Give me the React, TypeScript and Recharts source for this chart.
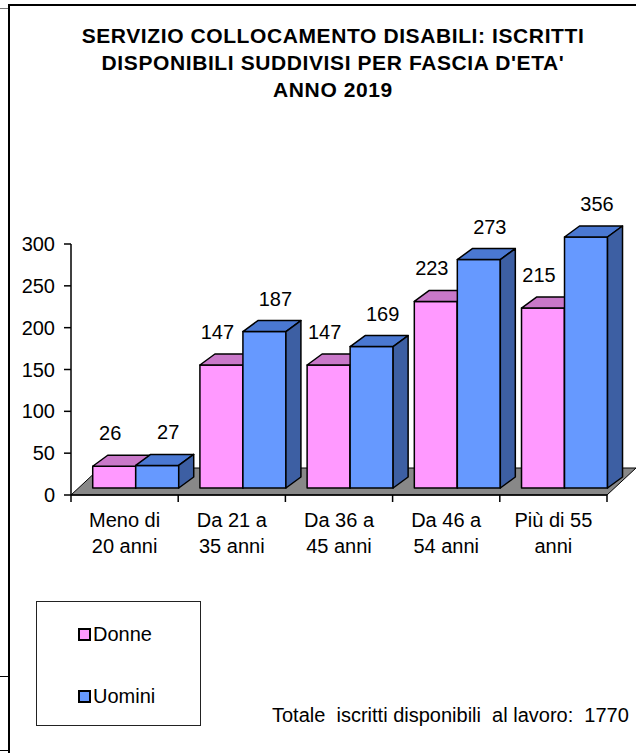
import React from 'react';
import { BarChart, Bar, XAxis, YAxis, LabelList } from 'recharts';

const TITLE_LINES = [
  'SERVIZIO COLLOCAMENTO DISABILI: ISCRITTI',
  "DISPONIBILI SUDDIVISI PER FASCIA D'ETA'",
  'ANNO 2019',
];
const CATEGORIES = [
  ['Meno di', '20 anni'],
  ['Da 21 a', '35 anni'],
  ['Da 36 a', '45 anni'],
  ['Da 46 a', '54 anni'],
  ['Più di 55', 'anni'],
];
const DONNE = [26, 147, 147, 223, 215];
const UOMINI = [27, 187, 169, 273, 356];
const Y_TICKS = [0, 50, 100, 150, 200, 250, 300];
const Y_MAX = 300;
const FOOTER_LABEL = 'Totale  iscritti disponibili  al lavoro:  ';

const SERIES = [
  { key: 'donne', name: 'Donne', front: '#ff99ff', top: '#c978c9', side: '#a050a0', labelDx: -4 },
  { key: 'uomini', name: 'Uomini', front: '#6699ff', top: '#4a78d2', side: '#3d5fa3', labelDx: 11 },
];

const W = 636;
const H = 753;
const PLOT_LEFT = 71;
const PLOT_RIGHT = 607;
const PLOT_TOP = 244;
const PLOT_BOTTOM = 495;

// 3D look: bar front sits a bit behind the axis plane, with depth going up-right
const OX = 11;
const OY = -7;
const DX = 15;
const DY = -11;
const FLOOR_DX = 29;
const FLOOR_DY = -27;

const FONT = '"Liberation Sans", Arial, sans-serif';

const data = CATEGORIES.map((c, i) => ({
  cat: c.join('\n'),
  donne: DONNE[i],
  uomini: UOMINI[i],
}));

const total = [...DONNE, ...UOMINI].reduce((a, b) => a + b, 0);

const Bar3D = (props: any) => {
  const { x, y, width, height, front, top, side } = props;
  if (width == null || height == null) return null;
  const x0 = x + OX;
  const y0 = y + OY;
  const x1 = x0 + width;
  const y1 = y0 + height;
  return (
    <g stroke="#000" strokeWidth={1.5} strokeLinejoin="round">
      <rect x={x0} y={y0} width={width} height={height} fill={front} />
      <polygon points={`${x0},${y0} ${x0 + DX},${y0 + DY} ${x1 + DX},${y0 + DY} ${x1},${y0}`} fill={top} />
      <polygon points={`${x1},${y0} ${x1 + DX},${y0 + DY} ${x1 + DX},${y1 + DY} ${x1},${y1}`} fill={side} />
    </g>
  );
};

const makeLabel = (labelDx: number) => (props: any) => {
  const { x, y, width, value } = props;
  return (
    <text x={x + width / 2 + OX + labelDx} y={y + OY - 26} textAnchor="middle" fontSize={20} fill="#000" fontFamily={FONT}>
      {value}
    </text>
  );
};

const CategoryTick = (props: any) => {
  const { x, payload, index } = props;
  const band = (PLOT_RIGHT - PLOT_LEFT) / CATEGORIES.length;
  const lines = String(payload.value).split('\n');
  return (
    <g>
      <line x1={x - band / 2} x2={x - band / 2} y1={PLOT_BOTTOM} y2={PLOT_BOTTOM + 7} stroke="#000" strokeWidth={1.5} />
      {index === CATEGORIES.length - 1 && (
        <line x1={x + band / 2} x2={x + band / 2} y1={PLOT_BOTTOM} y2={PLOT_BOTTOM + 7} stroke="#000" strokeWidth={1.5} />
      )}
      {lines.map((l, i) => (
        <text key={i} x={x} y={PLOT_BOTTOM + 32 + i * 26} textAnchor="middle" fontSize={20} fill="#000" fontFamily={FONT}>
          {l}
        </text>
      ))}
    </g>
  );
};

export default function App() {
  return (
    <div style={{ position: 'absolute', left: 0, top: 0, width: W, height: H, background: '#fff', fontFamily: FONT, overflow: 'hidden' }}>
      {/* frame */}
      <div style={{ position: 'absolute', left: 8, top: 4, width: W, height: H, borderLeft: '2px solid #000', borderTop: '2px solid #000' }} />
      <div style={{ position: 'absolute', left: 0, top: 8, width: 8, height: 0, borderTop: '1px solid #777' }} />
      <div style={{ position: 'absolute', left: 0, top: 676, width: 8, height: 73, borderTop: '1px solid #000', borderBottom: '1px solid #000' }} />

      {/* floor */}
      <svg width={W} height={H} style={{ position: 'absolute', left: 0, top: 0 }}>
        <polygon
          points={`${PLOT_LEFT},${PLOT_BOTTOM} ${PLOT_RIGHT},${PLOT_BOTTOM} ${PLOT_RIGHT + FLOOR_DX},${PLOT_BOTTOM + FLOOR_DY} ${PLOT_LEFT + FLOOR_DX},${PLOT_BOTTOM + FLOOR_DY}`}
          fill="#888"
          stroke="#000"
          strokeWidth={1}
        />
      </svg>

      <div style={{ position: 'absolute', left: 0, top: 0 }}>
        <BarChart
          width={W}
          height={H}
          data={data}
          margin={{ top: PLOT_TOP, right: W - PLOT_RIGHT, bottom: 0, left: 0 }}
          barCategoryGap="10%"
          barGap={0}
        >
          <XAxis
            dataKey="cat"
            height={H - PLOT_BOTTOM}
            interval={0}
            axisLine={{ stroke: '#000', strokeWidth: 1.5 }}
            tickLine={false}
            tick={<CategoryTick />}
          />
          <YAxis
            width={PLOT_LEFT}
            domain={[0, Y_MAX]}
            ticks={Y_TICKS}
            interval={0}
            tickSize={7}
            tickMargin={9}
            axisLine={{ stroke: '#000', strokeWidth: 1.5 }}
            tickLine={{ stroke: '#000', strokeWidth: 1.5 }}
            tick={{ fontSize: 20, fill: '#000', fontFamily: FONT }}
          />
          {SERIES.map((s) => (
            <Bar
              key={s.key}
              name={s.name}
              dataKey={(d: any) => Math.min(d[s.key], Y_MAX)}
              isAnimationActive={false}
              shape={<Bar3D front={s.front} top={s.top} side={s.side} />}
            >
              <LabelList dataKey={s.key} content={makeLabel(s.labelDx)} />
            </Bar>
          ))}
        </BarChart>
      </div>

      {/* title */}
      <div style={{ position: 'absolute', left: 0, top: 22, width: 666, textAlign: 'center', fontWeight: 'bold', fontSize: 21, lineHeight: '27px', letterSpacing: 0.6, color: '#000' }}>
        {TITLE_LINES.map((t) => (
          <div key={t}>{t}</div>
        ))}
      </div>

      {/* legend */}
      <div style={{ position: 'absolute', left: 36, top: 601, width: 163, height: 123, border: '1.5px solid #222' }}>
        {SERIES.map((s, i) => (
          <div key={s.key} style={{ position: 'absolute', left: 41, top: 20 + i * 62, display: 'flex', alignItems: 'center', fontSize: 20, lineHeight: '24px' }}>
            <span style={{ display: 'inline-block', width: 9, height: 9, background: s.front, border: '2px solid #000', marginRight: 2 }} />
            {s.name}
          </div>
        ))}
      </div>

      {/* footer */}
      <div style={{ position: 'absolute', left: 272, top: 703, fontSize: 20, lineHeight: '24px', whiteSpace: 'pre', color: '#000' }}>
        {FOOTER_LABEL}
        {total}
      </div>
    </div>
  );
}
